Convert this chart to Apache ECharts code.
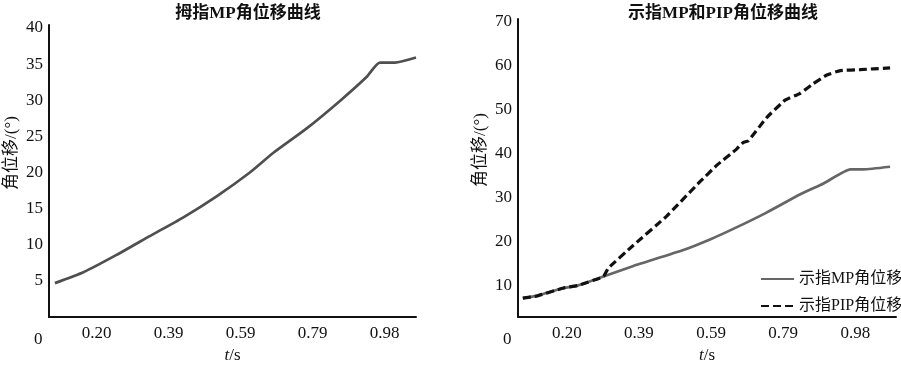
<!DOCTYPE html>
<html>
<head>
<meta charset="utf-8">
<script src="https://cdn.jsdelivr.net/npm/echarts@6/dist/echarts.min.js"></script>
<style>
html,body{margin:0;padding:0;background:#fff;}
#c{width:901px;height:369px;}
</style>
</head>
<body>
<div id="c"></div>
<script>
// ---- data ----
var xTickValues = [0.2, 0.395, 0.59, 0.785, 0.98];
var xTickLabels = ['0.20', '0.39', '0.59', '0.79', '0.98'];
var leftYTicks = [5, 10, 15, 20, 25, 30, 35, 40];
var rightYTicks = [10, 20, 30, 40, 50, 60, 70];

var thumbT  = [0.087, 0.164, 0.254, 0.344, 0.435, 0.525, 0.615, 0.678, 0.769, 0.859, 0.931, 0.967, 1.008, 1.065];
var thumbMP = [4.7,   6.2,   8.6,   11.2,  13.8,  16.7,  20.0,  22.7,  26.1,  29.9,  33.2,  35.2,  35.2,  35.9];

var indexMPT = [0.081, 0.119, 0.191, 0.231, 0.299, 0.380, 0.515, 0.587, 0.650, 0.740, 0.830, 0.894, 0.966, 1.002, 1.074];
var indexMP  = [7.2,   7.7,   9.5,   10.1,  12.1,  14.5,  18.1,  20.5,  22.9,  26.6,  30.7,  33.2,  36.4,  36.4,  37.0];

var indexPIPT = [0.081, 0.119, 0.191, 0.231, 0.299, 0.312, 0.380, 0.470, 0.560, 0.605, 0.659, 0.677, 0.691, 0.740, 0.790, 0.830, 0.866, 0.903, 0.939, 0.993, 1.029, 1.074];
var indexPIP  = [7.2,   7.7,   9.5,   10.1,  12.1,  14.0,  19.2,  25.8,  33.6,  37.3,  41.0,  42.5,  42.9,  48.1,  52.1,  53.6,  55.8,  57.8,  58.8,  59.0,  59.2,  59.4];

var titles = ['拇指MP角位移曲线', '示指MP和PIP角位移曲线'];
var seriesNames = ['示指MP角位移', '示指PIP角位移'];
var yName = '角位移/(°)';

function zip(a, b) { return a.map(function (v, i) { return [v, b[i]]; }); }

var FONT = '"Liberation Serif", "Times New Roman", "Noto Sans CJK SC", serif';
var INK = '#111';

function xAxisCfg(idx, min, max) {
  return {
    type: 'value', gridIndex: idx, min: min, max: max,
    name: '{i|t}/s', nameLocation: 'middle', nameGap: 27,
    nameTextStyle: { fontFamily: FONT, fontSize: 17, color: INK,
      rich: { i: { fontStyle: 'italic', fontFamily: FONT, fontSize: 17, color: INK } } },
    axisLine: { show: true, onZero: false, lineStyle: { color: INK, width: 2 } },
    axisTick: { show: false },
    splitLine: { show: false },
    axisLabel: {
      customValues: xTickValues, margin: 8,
      fontFamily: FONT, fontSize: 17, color: INK,
      formatter: function (v) {
        var k = xTickValues.indexOf(v);
        return k >= 0 ? xTickLabels[k] : '';
      }
    }
  };
}
function yAxisCfg(idx, min, max, ticks) {
  return {
    type: 'value', gridIndex: idx, min: min, max: max,
    name: yName, nameLocation: 'middle', nameGap: 29,
    nameTextStyle: { fontFamily: FONT, fontSize: 17, color: INK, padding: [0, 0, 0, 36] },
    axisLine: { show: true, onZero: false, lineStyle: { color: INK, width: 2 } },
    axisTick: { show: false },
    splitLine: { show: false },
    axisLabel: { customValues: ticks, margin: 6, fontFamily: FONT, fontSize: 17, color: INK }
  };
}

var chart = echarts.init(document.getElementById('c'));
chart.setOption({
  backgroundColor: '#fff',
  animation: false,
  title: [
    { text: titles[0], left: 243, top: 0, textAlign: 'center',
      textStyle: { fontFamily: FONT, fontSize: 17, fontWeight: 'bold', color: INK } },
    { text: titles[1], left: 718, top: 0, textAlign: 'center',
      textStyle: { fontFamily: FONT, fontSize: 17, fontWeight: 'bold', color: INK } }
  ],
  grid: [
    { left: 49, right: 485, top: 25, bottom: 42.4 },
    { left: 518, right: 5, top: 19, bottom: 45.7 }
  ],
  xAxis: [xAxisCfg(0, 0.071, 1.065), xAxisCfg(1, 0.068, 1.090)],
  yAxis: [yAxisCfg(0, 0, 40.4, leftYTicks), yAxisCfg(1, 2.9, 70.5, rightYTicks)],
  legend: {
    left: 755, top: 266, orient: 'vertical', itemGap: 11,
    itemWidth: 33, itemHeight: 14,
    itemStyle: { opacity: 0 },
    data: seriesNames,
    textStyle: { fontFamily: FONT, fontSize: 16, color: INK }
  },
  graphic: [
    { type: 'text', left: 34, top: 331, style: { text: '0', font: '17px ' + FONT, fill: INK } },
    { type: 'text', left: 503, top: 331, style: { text: '0', font: '17px ' + FONT, fill: INK } }
  ],
  series: [
    { type: 'line', xAxisIndex: 0, yAxisIndex: 0, data: zip(thumbT, thumbMP),
      symbol: 'none', smooth: 0.2,
      lineStyle: { color: '#4f4f4f', width: 2.7 }, z: 3 },
    { name: seriesNames[0], type: 'line', xAxisIndex: 1, yAxisIndex: 1, data: zip(indexMPT, indexMP),
      symbol: 'none', smooth: 0.15,
      itemStyle: { color: '#666' }, lineStyle: { color: '#666', width: 2.7 }, z: 2 },
    { name: seriesNames[1], type: 'line', xAxisIndex: 1, yAxisIndex: 1, data: zip(indexPIPT, indexPIP),
      symbol: 'none', smooth: 0.1,
      itemStyle: { color: '#111' }, lineStyle: { color: '#111', width: 3.2, type: [8, 4] }, z: 3 }
  ]
});
</script>
</body>
</html>
